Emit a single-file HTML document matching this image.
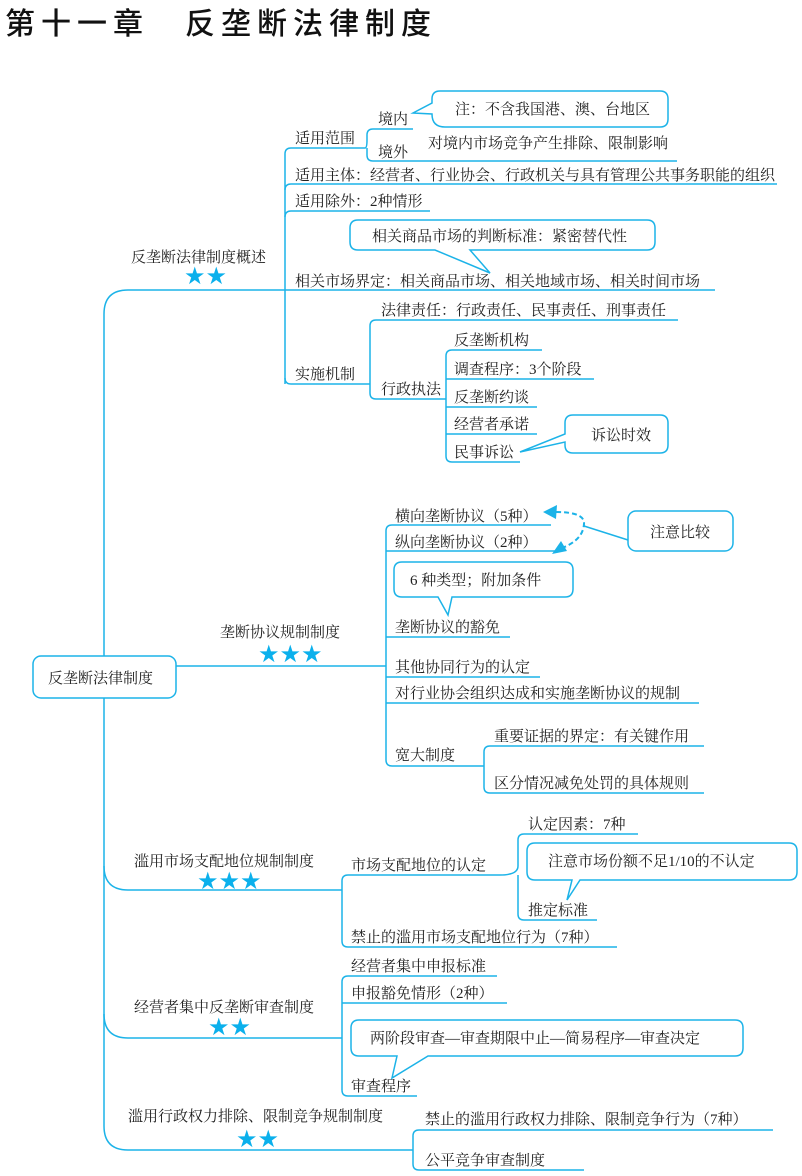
<!DOCTYPE html>
<html><head><meta charset="utf-8"><style>
html,body{margin:0;padding:0;background:#fff;}
svg{display:block;font-family:"Liberation Serif","Noto Serif CJK SC",serif;}
text{font-size:15px;fill:#222;}
.t{fill:none;stroke:#1cb3e8;stroke-width:1.5;}
.b{fill:#fff;stroke:#1cb3e8;stroke-width:1.5;}
.s{fill:#0bb0ec;font-size:24px;font-family:"DejaVu Sans",sans-serif;}
</style></head><body>
<svg width="802" height="1176" viewBox="0 0 802 1176">
<text x="5" y="34" style="font-size:30px;letter-spacing:6px;fill:#111;font-family:'Noto Sans CJK SC',sans-serif;font-weight:500">第十一章</text>
<text x="185" y="34" style="font-size:30px;letter-spacing:6px;fill:#111;font-family:'Noto Sans CJK SC',sans-serif;font-weight:500">反垄断法律制度</text>

<path class="t" d="M285 290 H128 Q104 290 104 314 V1126 Q104 1150 128 1150 H413"/>
<path class="t" d="M104 866 Q104 890 128 890 H342"/>
<path class="t" d="M104 1014 Q104 1038 128 1038 H342"/>
<path class="t" d="M176 666 H386"/>
<rect class="b" x="33" y="656" width="143" height="42" rx="8"/>
<text x="48" y="683">反垄断法律制度</text>

<text x="131" y="262">反垄断法律制度概述</text>
<text class="s" x="184" y="284">★★</text>
<path class="t" d="M285 384 V154 Q285 148 291 148 H365"/>
<path class="t" d="M285 190 Q285 184 291 184 H777"/>
<path class="t" d="M285 217 Q285 211 291 211 H430"/>
<path class="t" d="M285 290 H715"/>
<path class="t" d="M285 378 Q285 384 291 384 H370"/>
<text x="295" y="143">适用范围</text>
<text x="295" y="180">适用主体：经营者、行业协会、行政机关与具有管理公共事务职能的组织</text>
<text x="295" y="206">适用除外：2种情形</text>
<text x="295" y="286">相关市场界定：相关商品市场、相关地域市场、相关时间市场</text>
<text x="295" y="379">实施机制</text>
<path class="t" d="M365 148 Q367 148 367 140 V135 Q367 129 373 129 H413"/>
<path class="t" d="M367 148 V155 Q367 161 373 161 H677"/>
<text x="378" y="124">境内</text>
<text x="378" y="157">境外</text>
<text x="428" y="148">对境内市场竞争产生排除、限制影响</text>
<path class="b" d="M440 91 H660 Q668 91 668 99 V119 Q668 127 660 127 H445 Q432 127 432 114 L413 113 L432 103 V99 Q432 91 440 91 Z"/>
<text x="455" y="114">注：不含我国港、澳、台地区</text>
<path class="b" d="M358 220 H647 Q655 220 655 228 V242 Q655 250 647 250 H470 L490 273 L435 250 H358 Q350 250 350 242 V228 Q350 220 358 220 Z"/>
<text x="372" y="241">相关商品市场的判断标准：紧密替代性</text>
<path class="t" d="M370 393 V326 Q370 320 376 320 H678"/>
<path class="t" d="M370 393 Q370 399 376 399 H446"/>
<text x="381" y="315">法律责任：行政责任、民事责任、刑事责任</text>
<text x="381" y="394">行政执法</text>
<path class="t" d="M446 456 V356 Q446 350 452 350 H542"/>
<path class="t" d="M446 379 H594"/>
<path class="t" d="M446 407 H537"/>
<path class="t" d="M446 434 H537"/>
<path class="t" d="M446 456 Q446 462 452 462 H520"/>
<text x="454" y="345">反垄断机构</text>
<text x="454" y="374">调查程序：3个阶段</text>
<text x="454" y="402">反垄断约谈</text>
<text x="454" y="429">经营者承诺</text>
<text x="454" y="457">民事诉讼</text>
<path class="b" d="M573 415 H660 Q668 415 668 423 V445 Q668 453 660 453 H573 Q565 453 565 445 V442 L520 452 L565 434 V423 Q565 415 573 415 Z"/>
<text x="591" y="440">诉讼时效</text>

<text x="220" y="637">垄断协议规制制度</text>
<text class="s" x="258" y="662">★★★</text>
<path class="t" d="M386 760 V531 Q386 525 392 525 H551"/>
<path class="t" d="M386 551 H560"/>
<path class="t" d="M386 637 H510"/>
<path class="t" d="M386 677 H540"/>
<path class="t" d="M386 703 H699"/>
<path class="t" d="M386 760 Q386 766 392 766 H484"/>
<text x="395" y="521">横向垄断协议（5种）</text>
<text x="395" y="547">纵向垄断协议（2种）</text>
<text x="395" y="632">垄断协议的豁免</text>
<text x="395" y="672">其他协同行为的认定</text>
<text x="395" y="698">对行业协会组织达成和实施垄断协议的规制</text>
<text x="395" y="760">宽大制度</text>
<path class="t" d="M484 766 V752 Q484 746 490 746 H704"/>
<path class="t" d="M484 766 V787 Q484 793 490 793 H704"/>
<text x="494" y="741">重要证据的界定：有关键作用</text>
<text x="494" y="788">区分情况减免处罚的具体规则</text>
<path class="b" d="M402 562 H565 Q573 562 573 570 V589 Q573 597 565 597 H452 L448 615 L438 597 H402 Q394 597 394 589 V570 Q394 562 402 562 Z"/>
<text x="410" y="585">6 种类型；附加条件</text>
<path d="M556 512 Q585 512 584 524 Q583 540 562 548" fill="none" stroke="#1cb3e8" stroke-width="2" stroke-dasharray="5,3"/>
<polygon points="543,512 557,505 556,519" fill="#1cb3e8"/>
<polygon points="552,554 561,541 567,551" fill="#1cb3e8"/>
<path class="t" d="M584 526 L628 540"/>
<rect class="b" x="628" y="511" width="105" height="40" rx="8"/>
<text x="650" y="537">注意比较</text>

<text x="134" y="866">滥用市场支配地位规制制度</text>
<text class="s" x="197" y="889">★★★</text>
<path class="t" d="M342 941 V881 Q342 875 348 875 H500"/>
<path class="t" d="M342 941 Q342 947 348 947 H617"/>
<text x="351" y="870">市场支配地位的认定</text>
<text x="351" y="942">禁止的滥用市场支配地位行为（7种）</text>
<path class="t" d="M500 875 Q518 875 518 866 V840 Q518 834 524 834 H638"/>
<path class="t" d="M518 875 V914 Q518 920 524 920 H597"/>
<text x="528" y="829">认定因素：7种</text>
<text x="528" y="915">推定标准</text>
<path class="b" d="M535 843 H789 Q797 843 797 851 V872 Q797 880 789 880 H580 L567 900 L572 880 H535 Q527 880 527 872 V851 Q527 843 535 843 Z"/>
<text x="548" y="866">注意市场份额不足1/10的不认定</text>

<text x="134" y="1012">经营者集中反垄断审查制度</text>
<text class="s" x="208" y="1035">★★</text>
<path class="t" d="M342 1090 V982 Q342 976 348 976 H497"/>
<path class="t" d="M342 1003 H507"/>
<path class="t" d="M342 1090 Q342 1096 348 1096 H417"/>
<text x="351" y="971">经营者集中申报标准</text>
<text x="351" y="998">申报豁免情形（2种）</text>
<text x="351" y="1091">审查程序</text>
<path class="b" d="M359 1020 H735 Q743 1020 743 1028 V1048 Q743 1056 735 1056 H428 L392 1078 L397 1056 H359 Q351 1056 351 1048 V1028 Q351 1020 359 1020 Z"/>
<text x="370" y="1043">两阶段审查—审查期限中止—简易程序—审查决定</text>

<text x="128" y="1121">滥用行政权力排除、限制竞争规制制度</text>
<text class="s" x="236" y="1147">★★</text>
<path class="t" d="M413 1164 V1136 Q413 1130 419 1130 H773"/>
<path class="t" d="M413 1164 Q413 1170 419 1170 H584"/>
<text x="425" y="1124">禁止的滥用行政权力排除、限制竞争行为（7种）</text>
<text x="425" y="1165">公平竞争审查制度</text>
</svg>
</body></html>
